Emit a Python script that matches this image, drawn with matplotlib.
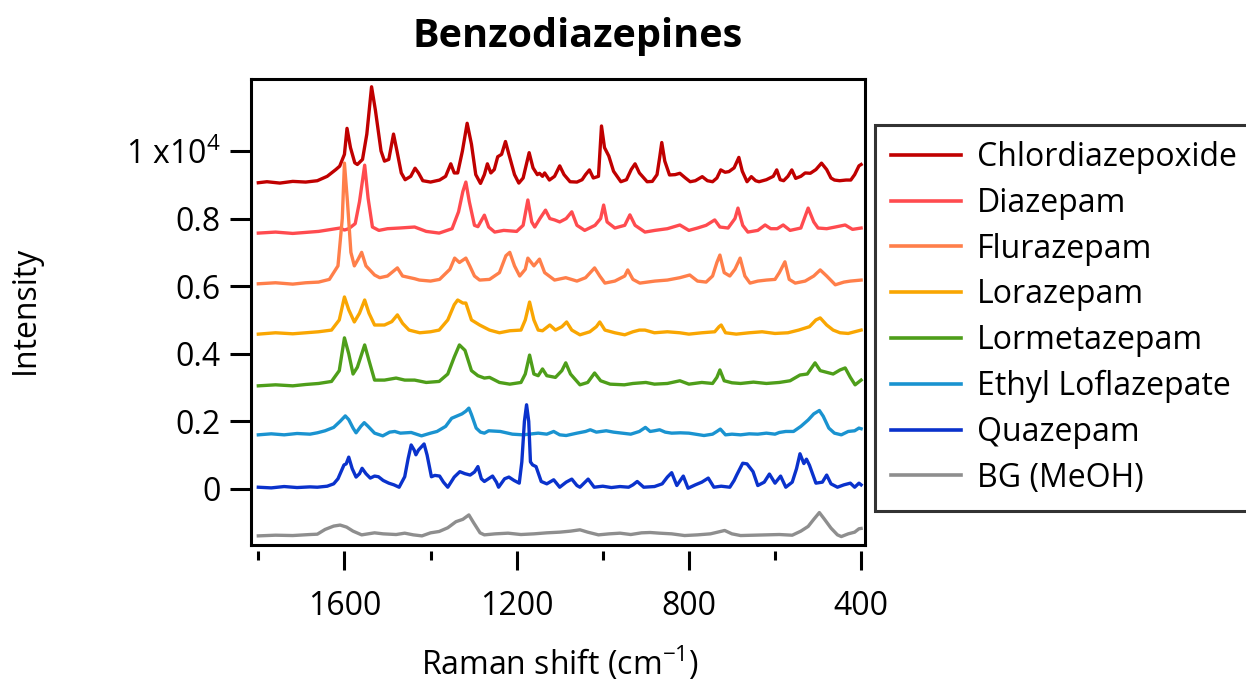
import matplotlib
matplotlib.use("Agg")
import matplotlib.pyplot as plt

plt.rcParams['font.family'] = ['Open Sans', 'DejaVu Sans']
plt.rcParams['mathtext.fontset'] = 'custom'
plt.rcParams['mathtext.rm'] = 'Open Sans'
plt.rcParams['mathtext.it'] = 'Open Sans'

# Raman spectra: (wavenumber cm-1, intensity x1e4, stacked)
CHLORDIAZEPOXIDE = [
    (1800, 0.906), (1780, 0.909), (1750, 0.905), (1720, 0.910), (1690, 0.908), (1663, 0.912),
    (1640, 0.925), (1620, 0.945), (1611, 0.955), (1600, 0.990), (1594, 1.067), (1586, 1.010),
    (1576, 0.965), (1570, 0.960), (1558, 0.975), (1548, 1.050), (1537, 1.190), (1528, 1.120),
    (1515, 1.000), (1507, 0.970), (1497, 0.975), (1486, 1.050), (1478, 1.000), (1468, 0.935),
    (1459, 0.915), (1446, 0.925), (1436, 0.949), (1428, 0.935), (1418, 0.912), (1400, 0.908),
    (1379, 0.914), (1365, 0.925), (1353, 0.962), (1345, 0.935), (1337, 0.935), (1326, 1.000),
    (1315, 1.082), (1305, 1.020), (1295, 0.930), (1284, 0.904), (1275, 0.930), (1268, 0.962),
    (1260, 0.935), (1252, 0.945), (1244, 0.983), (1235, 0.990), (1226, 1.028), (1218, 0.990),
    (1205, 0.930), (1195, 0.905), (1185, 0.920), (1171, 0.995), (1162, 0.950), (1152, 0.930),
    (1147, 0.934), (1140, 0.925), (1135, 0.935), (1124, 0.914), (1112, 0.925), (1100, 0.956),
    (1090, 0.930), (1076, 0.909), (1060, 0.908), (1048, 0.915), (1040, 0.930), (1031, 0.944),
    (1022, 0.920), (1010, 0.925), (1003, 1.074), (996, 1.010), (986, 0.985), (975, 0.940),
    (958, 0.909), (945, 0.915), (934, 0.945), (925, 0.962), (915, 0.935), (897, 0.909),
    (885, 0.910), (874, 0.930), (868, 0.980), (863, 1.025), (856, 0.970), (845, 0.929),
    (832, 0.930), (821, 0.934), (808, 0.920), (797, 0.909), (785, 0.912), (769, 0.924),
    (757, 0.912), (745, 0.909), (735, 0.920), (726, 0.944), (716, 0.937), (707, 0.939),
    (695, 0.950), (684, 0.981), (676, 0.940), (665, 0.909), (655, 0.924), (645, 0.912),
    (637, 0.909), (620, 0.915), (604, 0.925), (596, 0.944), (588, 0.915), (580, 0.912),
    (570, 0.925), (561, 0.944), (552, 0.919), (540, 0.925), (530, 0.935), (518, 0.934),
    (505, 0.945), (492, 0.964), (480, 0.945), (470, 0.920), (462, 0.914), (450, 0.912),
    (435, 0.914), (424, 0.914), (415, 0.930), (405, 0.956), (400, 0.960),
]
DIAZEPAM = [
    (1800, 0.757), (1760, 0.760), (1720, 0.756), (1690, 0.759), (1660, 0.762), (1630, 0.768),
    (1610, 0.772), (1600, 0.766), (1590, 0.770), (1575, 0.785), (1565, 0.850), (1553, 0.958),
    (1545, 0.860), (1535, 0.775), (1520, 0.765), (1500, 0.770), (1472, 0.772), (1437, 0.775),
    (1410, 0.762), (1380, 0.757), (1350, 0.770), (1335, 0.820), (1325, 0.880), (1318, 0.908),
    (1310, 0.850), (1298, 0.780), (1290, 0.776), (1275, 0.810), (1265, 0.775), (1251, 0.760),
    (1230, 0.765), (1200, 0.762), (1185, 0.780), (1174, 0.855), (1165, 0.790), (1158, 0.775),
    (1146, 0.800), (1133, 0.825), (1123, 0.800), (1112, 0.796), (1100, 0.790), (1085, 0.800),
    (1072, 0.820), (1060, 0.780), (1042, 0.765), (1018, 0.780), (1005, 0.800), (998, 0.840),
    (990, 0.790), (972, 0.772), (949, 0.780), (937, 0.811), (925, 0.780), (902, 0.760),
    (879, 0.765), (850, 0.770), (821, 0.781), (800, 0.765), (780, 0.772), (760, 0.780),
    (740, 0.796), (728, 0.775), (709, 0.772), (693, 0.800), (686, 0.831), (675, 0.780),
    (663, 0.760), (640, 0.765), (623, 0.781), (610, 0.770), (595, 0.770), (581, 0.781),
    (565, 0.765), (540, 0.772), (523, 0.831), (510, 0.790), (500, 0.772), (480, 0.770),
    (460, 0.775), (437, 0.781), (420, 0.768), (400, 0.772),
]
FLURAZEPAM = [
    (1800, 0.607), (1760, 0.610), (1720, 0.606), (1690, 0.610), (1660, 0.612), (1635, 0.620),
    (1615, 0.660), (1605, 0.800), (1600, 0.964), (1593, 0.850), (1585, 0.700), (1577, 0.660),
    (1568, 0.680), (1560, 0.700), (1550, 0.660), (1530, 0.633), (1518, 0.625), (1500, 0.630),
    (1477, 0.654), (1465, 0.630), (1437, 0.622), (1426, 0.618), (1400, 0.615), (1379, 0.620),
    (1355, 0.650), (1344, 0.683), (1333, 0.670), (1318, 0.683), (1309, 0.660), (1298, 0.630),
    (1286, 0.618), (1263, 0.620), (1240, 0.640), (1225, 0.690), (1216, 0.700), (1205, 0.660),
    (1193, 0.630), (1180, 0.650), (1174, 0.683), (1160, 0.660), (1147, 0.680), (1135, 0.640),
    (1112, 0.618), (1086, 0.625), (1060, 0.615), (1040, 0.625), (1019, 0.654), (1007, 0.630),
    (995, 0.609), (972, 0.615), (949, 0.630), (942, 0.648), (930, 0.620), (914, 0.609),
    (879, 0.615), (850, 0.618), (821, 0.625), (798, 0.633), (780, 0.615), (760, 0.612),
    (745, 0.630), (735, 0.670), (728, 0.692), (718, 0.640), (705, 0.630), (693, 0.650),
    (681, 0.683), (670, 0.630), (658, 0.609), (640, 0.615), (620, 0.618), (600, 0.620),
    (590, 0.640), (577, 0.672), (567, 0.620), (553, 0.609), (530, 0.615), (510, 0.630),
    (495, 0.648), (480, 0.630), (460, 0.604), (440, 0.612), (425, 0.615), (400, 0.618),
]
LORAZEPAM = [
    (1800, 0.458), (1760, 0.462), (1720, 0.459), (1690, 0.462), (1660, 0.465), (1630, 0.470),
    (1612, 0.500), (1600, 0.568), (1590, 0.530), (1577, 0.494), (1565, 0.520), (1553, 0.559),
    (1543, 0.520), (1530, 0.485), (1507, 0.485), (1490, 0.495), (1477, 0.515), (1465, 0.490),
    (1450, 0.470), (1425, 0.462), (1400, 0.465), (1380, 0.470), (1360, 0.500), (1345, 0.545),
    (1337, 0.559), (1325, 0.550), (1318, 0.550), (1305, 0.500), (1286, 0.485), (1263, 0.470),
    (1240, 0.462), (1216, 0.468), (1190, 0.470), (1180, 0.500), (1170, 0.553), (1160, 0.500),
    (1150, 0.470), (1140, 0.468), (1123, 0.485), (1110, 0.470), (1095, 0.480), (1084, 0.494),
    (1072, 0.470), (1053, 0.456), (1030, 0.465), (1015, 0.480), (1007, 0.494), (995, 0.470),
    (972, 0.462), (949, 0.456), (930, 0.465), (915, 0.470), (902, 0.470), (880, 0.462),
    (850, 0.465), (821, 0.462), (800, 0.458), (770, 0.462), (740, 0.465), (730, 0.480),
    (725, 0.485), (715, 0.462), (690, 0.458), (660, 0.462), (630, 0.465), (600, 0.460),
    (570, 0.462), (545, 0.470), (520, 0.480), (505, 0.500), (495, 0.506), (480, 0.485),
    (465, 0.470), (449, 0.462), (430, 0.460), (415, 0.465), (400, 0.470),
]
LORMETAZEPAM = [
    (1800, 0.305), (1760, 0.308), (1720, 0.305), (1690, 0.309), (1660, 0.312), (1630, 0.318),
    (1612, 0.350), (1600, 0.447), (1590, 0.400), (1580, 0.340), (1570, 0.360), (1553, 0.426),
    (1543, 0.380), (1530, 0.322), (1507, 0.322), (1480, 0.328), (1460, 0.322), (1437, 0.322),
    (1410, 0.315), (1380, 0.318), (1360, 0.340), (1345, 0.390), (1333, 0.426), (1320, 0.410),
    (1305, 0.350), (1290, 0.335), (1275, 0.328), (1263, 0.330), (1240, 0.315), (1216, 0.310),
    (1190, 0.315), (1180, 0.340), (1170, 0.396), (1160, 0.340), (1150, 0.335), (1140, 0.355),
    (1130, 0.335), (1110, 0.330), (1095, 0.350), (1086, 0.373), (1075, 0.340), (1053, 0.308),
    (1035, 0.315), (1019, 0.343), (1005, 0.320), (983, 0.310), (950, 0.308), (930, 0.312),
    (900, 0.315), (880, 0.310), (850, 0.312), (821, 0.320), (800, 0.310), (770, 0.315),
    (745, 0.312), (735, 0.330), (728, 0.352), (718, 0.320), (700, 0.314), (680, 0.312),
    (650, 0.316), (620, 0.312), (590, 0.315), (565, 0.320), (542, 0.337), (525, 0.340),
    (507, 0.373), (495, 0.350), (480, 0.345), (465, 0.340), (449, 0.352), (437, 0.358),
    (425, 0.330), (414, 0.308), (400, 0.322),
]
ETHYL_LOFLAZEPATE = [
    (1800, 0.160), (1770, 0.163), (1740, 0.160), (1710, 0.164), (1680, 0.162), (1663, 0.166),
    (1645, 0.172), (1625, 0.182), (1610, 0.200), (1598, 0.216), (1590, 0.205), (1580, 0.180),
    (1573, 0.166), (1562, 0.185), (1554, 0.196), (1545, 0.185), (1530, 0.165), (1511, 0.157),
    (1495, 0.168), (1483, 0.170), (1470, 0.165), (1445, 0.167), (1421, 0.157), (1400, 0.165),
    (1385, 0.170), (1365, 0.185), (1351, 0.209), (1340, 0.215), (1327, 0.222), (1318, 0.230),
    (1311, 0.239), (1305, 0.220), (1294, 0.180), (1284, 0.168), (1275, 0.165), (1265, 0.172),
    (1238, 0.170), (1210, 0.162), (1185, 0.160), (1150, 0.165), (1130, 0.162), (1114, 0.170),
    (1100, 0.160), (1085, 0.158), (1060, 0.165), (1040, 0.170), (1029, 0.175), (1015, 0.168),
    (992, 0.172), (975, 0.168), (955, 0.165), (935, 0.162), (915, 0.170), (901, 0.182),
    (890, 0.170), (880, 0.172), (868, 0.175), (855, 0.168), (840, 0.165), (820, 0.166),
    (800, 0.165), (785, 0.162), (765, 0.158), (745, 0.162), (735, 0.170), (727, 0.177),
    (715, 0.160), (700, 0.162), (680, 0.160), (660, 0.163), (640, 0.162), (620, 0.165),
    (600, 0.162), (590, 0.167), (575, 0.170), (557, 0.170), (540, 0.185), (523, 0.204),
    (510, 0.222), (497, 0.232), (488, 0.215), (475, 0.180), (462, 0.165), (446, 0.160),
    (430, 0.170), (415, 0.172), (405, 0.180), (400, 0.178),
]
QUAZEPAM = [
    (1800, 0.005), (1770, 0.003), (1740, 0.007), (1710, 0.004), (1680, 0.006), (1663, 0.005),
    (1640, 0.008), (1625, 0.015), (1615, 0.030), (1601, 0.071), (1596, 0.074), (1590, 0.094),
    (1582, 0.060), (1573, 0.035), (1565, 0.045), (1559, 0.061), (1550, 0.045), (1540, 0.032),
    (1530, 0.038), (1521, 0.036), (1510, 0.025), (1497, 0.017), (1485, 0.012), (1473, 0.005),
    (1460, 0.036), (1452, 0.090), (1445, 0.130), (1438, 0.115), (1434, 0.101), (1428, 0.115),
    (1415, 0.133), (1408, 0.100), (1398, 0.036), (1390, 0.040), (1379, 0.038), (1370, 0.020),
    (1360, 0.005), (1345, 0.035), (1332, 0.051), (1320, 0.045), (1308, 0.041), (1298, 0.050),
    (1290, 0.066), (1282, 0.030), (1275, 0.022), (1256, 0.038), (1247, 0.020), (1242, 0.005),
    (1228, 0.030), (1218, 0.035), (1206, 0.025), (1194, 0.017), (1188, 0.080), (1182, 0.200),
    (1177, 0.249), (1172, 0.200), (1168, 0.080), (1163, 0.071), (1155, 0.066), (1143, 0.022),
    (1130, 0.015), (1114, 0.027), (1100, 0.005), (1085, 0.020), (1072, 0.029), (1060, 0.010),
    (1053, 0.005), (1034, 0.029), (1020, 0.005), (1000, 0.008), (980, 0.004), (960, 0.007),
    (940, 0.005), (930, 0.012), (920, 0.022), (905, 0.005), (880, 0.007), (862, 0.015),
    (850, 0.035), (840, 0.048), (828, 0.010), (813, 0.038), (802, 0.002), (785, 0.012),
    (770, 0.020), (755, 0.032), (742, 0.005), (725, 0.008), (705, 0.005), (695, 0.025),
    (689, 0.041), (675, 0.076), (665, 0.074), (651, 0.051), (640, 0.010), (625, 0.020),
    (613, 0.044), (600, 0.017), (587, 0.038), (575, 0.005), (560, 0.020), (550, 0.060),
    (542, 0.104), (533, 0.075), (527, 0.088), (520, 0.070), (505, 0.017), (490, 0.020),
    (480, 0.041), (470, 0.015), (455, 0.005), (440, 0.012), (425, 0.017), (415, 0.005),
    (405, 0.017), (400, 0.012),
]
BG_MEOH = [
    (1800, -0.139), (1760, -0.137), (1720, -0.138), (1680, -0.135), (1663, -0.134), (1645, -0.120),
    (1625, -0.110), (1610, -0.107), (1595, -0.113), (1580, -0.125), (1560, -0.136), (1530, -0.130),
    (1510, -0.133), (1480, -0.135), (1460, -0.131), (1440, -0.136), (1420, -0.139), (1400, -0.130),
    (1380, -0.126), (1360, -0.115), (1341, -0.097), (1325, -0.090), (1311, -0.077), (1300, -0.100),
    (1285, -0.130), (1275, -0.136), (1250, -0.133), (1220, -0.131), (1190, -0.135), (1160, -0.133),
    (1130, -0.130), (1100, -0.128), (1075, -0.125), (1053, -0.121), (1035, -0.128), (1010, -0.136),
    (985, -0.133), (960, -0.131), (935, -0.135), (910, -0.130), (890, -0.129), (868, -0.131),
    (840, -0.133), (810, -0.138), (780, -0.136), (750, -0.133), (730, -0.127), (717, -0.123),
    (700, -0.133), (680, -0.138), (650, -0.137), (620, -0.136), (590, -0.135), (560, -0.137),
    (540, -0.125), (523, -0.111), (510, -0.090), (497, -0.070), (485, -0.090), (470, -0.116),
    (455, -0.136), (446, -0.141), (430, -0.133), (415, -0.128), (405, -0.118), (400, -0.117),
]

names = ["Chlordiazepoxide", "Diazepam", "Flurazepam", "Lorazepam", "Lormetazepam",
         "Ethyl Loflazepate", "Quazepam", "BG (MeOH)"]
spectra = [CHLORDIAZEPOXIDE, DIAZEPAM, FLURAZEPAM, LORAZEPAM, LORMETAZEPAM,
           ETHYL_LOFLAZEPATE, QUAZEPAM, BG_MEOH]
colors = ["#C00000", "#FF4B4F", "#FF7F4A", "#F9A602", "#4E9E1A",
          "#1A93D0", "#0A32CC", "#8E8E8E"]

yticks = [0, 0.2, 0.4, 0.6, 0.8, 1.0]
yticklabels = ["0", "0.2", "0.4", "0.6", "0.8", "1 x10$^{4}$"]
xticks_major = [1600, 1200, 800, 400]
xticks_minor = [1800, 1400, 1000, 600]

W, H = 1246, 684
fig = plt.figure(figsize=(W / 100, H / 100), dpi=100)
ax = fig.add_axes([251 / W, 1 - 545 / H, (865 - 251) / W, (545 - 79) / H])

for s in ax.spines.values():
    s.set_linewidth(2.2)
# bottom axis hangs slightly below the frame
ax.spines['bottom'].set_position(('outward', 4))
ax.spines['bottom'].set_visible(False)
ax.plot([0, 1], [0, 0], transform=ax.transAxes, color='black', lw=2.2,
        clip_on=False, solid_capstyle='projecting')

for name, spec, c in zip(names, spectra, colors):
    xs = [p[0] for p in spec]
    ys = [p[1] for p in spec]
    ax.plot(xs, ys, color=c, lw=2.4, label=name, solid_joinstyle='round')

ax.set_xlim(1817, 391)
ax.set_ylim(-0.166, 1.213)

fs = 23
ax.set_yticks(yticks)
ax.set_yticklabels(yticklabels)
ax.set_xticks(xticks_major)
ax.set_xticklabels([str(v) for v in xticks_major])
ax.set_xticks(xticks_minor, minor=True)

ax.tick_params(axis='y', which='major', direction='out', length=15, width=2.2, pad=7,
               labelsize=fs)
ax.tick_params(axis='x', which='major', direction='out', length=13.5, width=2.2, pad=15,
               labelsize=fs)
ax.tick_params(axis='x', which='minor', direction='out', length=6.5, width=2.2)

fig.text(578 / W, 1 - 47 / H, "Benzodiazepines", fontsize=28.5, fontweight='bold',
         ha='center', va='baseline')
fig.text(560 / W, 1 - 675 / H, "Raman shift (cm$^{-1}$)", fontsize=fs,
         ha='center', va='baseline')
fig.text(25 / W, 1 - 310 / H, "Intensity", fontsize=fs, rotation=90,
         ha='center', va='center')

leg = ax.legend(loc='upper left', bbox_to_anchor=(875 / W, 1 - 125 / H),
                bbox_transform=fig.transFigure, fontsize=fs, frameon=True,
                fancybox=False, borderpad=0.5, borderaxespad=0,
                handlelength=2.2, handletextpad=0.5, labelspacing=0.4)
leg.get_frame().set_edgecolor('black')
leg.get_frame().set_linewidth(2.2)
for line in leg.get_lines():
    line.set_linewidth(2.6)

fig.savefig("out.png", dpi=100)
